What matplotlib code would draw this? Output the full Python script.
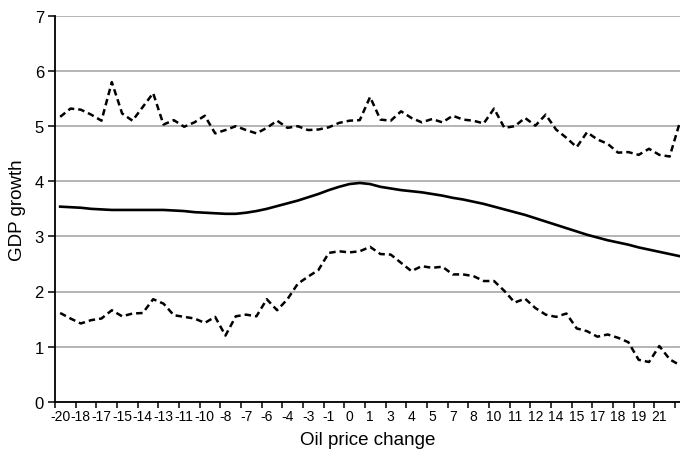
import matplotlib
matplotlib.use("Agg")
import matplotlib.pyplot as plt
import numpy as np

plt.rcParams['font.family'] = ['Liberation Sans', 'DejaVu Sans']

# category labels (shown on every second point)
oil_labels = ["-20", "-18", "-17", "-15", "-14", "-13", "-11", "-10", "-8", "-7",
              "-6", "-4", "-3", "-1", "0", "1", "3", "4", "5", "7",
              "8", "10", "11", "12", "14", "15", "17", "18", "19", "21"]

# GDP growth: central estimate and upper / lower bands
gdp_mean = [3.54, 3.53, 3.52, 3.50, 3.49, 3.48, 3.48, 3.48, 3.48, 3.48,
            3.48, 3.47, 3.46, 3.44, 3.43, 3.42, 3.41, 3.41, 3.43, 3.46,
            3.50, 3.55, 3.60, 3.65, 3.71, 3.77, 3.84, 3.90, 3.95, 3.97,
            3.95, 3.90, 3.87, 3.84, 3.82, 3.80, 3.77, 3.74, 3.70, 3.67,
            3.63, 3.59, 3.54, 3.49, 3.44, 3.39, 3.33, 3.27, 3.21, 3.15,
            3.09, 3.03, 2.98, 2.93, 2.89, 2.85, 2.80, 2.76, 2.72, 2.68, 2.64]

gdp_upper = [5.17, 5.32, 5.30, 5.21, 5.10, 5.80, 5.23, 5.10, 5.35, 5.60,
             5.03, 5.11, 4.99, 5.07, 5.19, 4.87, 4.93, 5.00, 4.93, 4.87,
             4.97, 5.10, 4.97, 5.00, 4.93, 4.94, 4.98, 5.06, 5.10, 5.11,
             5.53, 5.12, 5.10, 5.27, 5.15, 5.07, 5.13, 5.07, 5.19, 5.12,
             5.10, 5.05, 5.32, 4.97, 5.00, 5.15, 5.01, 5.21, 4.94, 4.79,
             4.62, 4.89, 4.76, 4.68, 4.52, 4.53, 4.48, 4.59, 4.48, 4.45, 5.08]

gdp_lower = [1.61, 1.51, 1.42, 1.48, 1.51, 1.66, 1.55, 1.60, 1.61, 1.86,
             1.78, 1.57, 1.54, 1.51, 1.43, 1.54, 1.20, 1.55, 1.58, 1.55,
             1.86, 1.66, 1.86, 2.14, 2.27, 2.39, 2.70, 2.73, 2.71, 2.73,
             2.81, 2.68, 2.67, 2.52, 2.37, 2.46, 2.43, 2.45, 2.31, 2.31,
             2.28, 2.19, 2.19, 2.01, 1.80, 1.87, 1.70, 1.58, 1.54, 1.60,
             1.33, 1.28, 1.18, 1.22, 1.16, 1.08, 0.76, 0.72, 1.01, 0.77, 0.66]

x = np.arange(len(gdp_mean))

fig = plt.figure(figsize=(6.8, 4.56), dpi=100)
ax = fig.add_axes([55 / 680, 1 - 402.7 / 456, 1 - 55 / 680, (402.7 - 17) / 456])

dash = (0, (2.6, 1.6))
ax.plot(x, gdp_upper, color="black", lw=1.8, linestyle=dash)
ax.plot(x, gdp_lower, color="black", lw=1.8, linestyle=dash)
ax.plot(x, gdp_mean, color="black", lw=1.9)

ax.set_ylim(0, 7)
ax.set_xlim(-0.5, 60.0)
ax.set_yticks(range(0, 8))
ax.yaxis.grid(True, color="#a8a8a8", lw=1.2)
ax.set_axisbelow(True)

# labels sit on every 2nd category, tick marks on the category boundaries
ax.set_xticks(np.arange(0, 60, 2))
ax.set_xticklabels(oil_labels, fontsize=10)
ax.set_xticks(np.arange(-0.5, 61, 2), minor=True)
ax.tick_params(axis="x", which="major", length=0, pad=5)
ax.tick_params(axis="x", which="minor", length=4, width=1.1, direction="out")
ax.tick_params(axis="y", length=5, width=1.1, pad=3, labelsize=12)

for s in ["top", "right"]:
    ax.spines[s].set_visible(False)
for s in ["left", "bottom"]:
    ax.spines[s].set_linewidth(1.3)

ax.set_xlabel("Oil price change", fontsize=13.5, labelpad=6)
ax.set_ylabel("GDP growth", fontsize=13.5, labelpad=6)

fig.savefig("out.png", dpi=100)
